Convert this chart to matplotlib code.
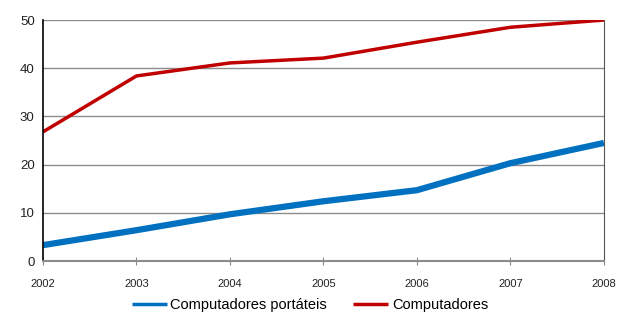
import matplotlib
matplotlib.use("Agg")
import matplotlib.pyplot as plt

years = [2002, 2003, 2004, 2005, 2006, 2007, 2008]
portateis = [3.3, 6.4, 9.7, 12.4, 14.7, 20.3, 24.5]
computadores = [26.8, 38.4, 41.1, 42.1, 45.4, 48.5, 50.0]

plt.rcParams['font.family'] = ['Liberation Sans', 'DejaVu Sans']

fig = plt.figure(figsize=(6.17, 3.13), dpi=100)
ax = fig.add_axes([0.0697, 0.166, 0.909, 0.770])

ax.plot(years, portateis, color='#0070c0', linewidth=4.5, label='Computadores portáteis', solid_capstyle='butt')
ax.plot(years, computadores, color='#c00000', linewidth=2.5, label='Computadores', solid_capstyle='butt')

ax.set_xlim(2002, 2008)
ax.set_ylim(0, 50)
ax.set_yticks([0, 10, 20, 30, 40, 50])
ax.set_xticks(years)
ax.yaxis.grid(True, color='#8c8c8c', linewidth=1)
ax.set_axisbelow(True)

ax.spines['left'].set_color('black')
ax.spines['left'].set_linewidth(1.2)
ax.spines['bottom'].set_color('#8c8c8c')
ax.spines['bottom'].set_linewidth(1.5)
ax.spines['right'].set_color('#555555')
ax.spines['top'].set_visible(False)

ax.tick_params(axis='y', length=0, pad=6, labelsize=9.5, labelcolor='#222222')
ax.tick_params(axis='x', direction='inout', length=6, color='#8c8c8c', pad=10, labelsize=8, labelcolor='#222222')

# legend under the plot, handles drawn thin like the original
leg = ax.legend(loc='center', bbox_to_anchor=(0.476, -0.183), ncol=2, frameon=False,
                fontsize=10.5, handlelength=2.4, handletextpad=0.25, columnspacing=1.8)
for line in leg.get_lines():
    line.set_linewidth(2.5)

fig.savefig('out.png', dpi=100)
